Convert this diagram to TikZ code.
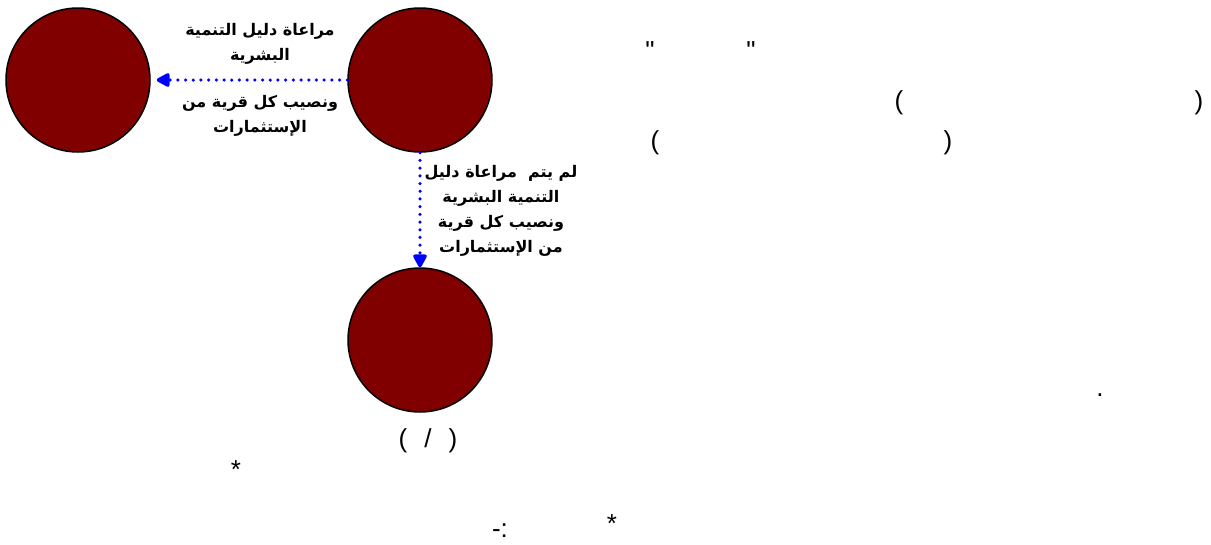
\documentclass[tikz,border=0pt]{standalone}
\usepackage{fontspec}
\setmainfont{Liberation Sans}[Ligatures=TeXOff]
\newfontfamily\arabicfont[Script=Arabic]{DejaVu Sans}
\usetikzlibrary{arrows.meta}
\definecolor{discred}{RGB}{128,0,0}
\newcommand{\rl}[1]{\beginR #1\endR}
\newcommand{\arsetup}{\TeXXeTstate=1\relax\arabicfont\bfseries\fontsize{16}{25}\selectfont}
\tikzset{
  disc/.style={circle, draw=black, line width=1.5pt, fill=discred, minimum size=144pt, inner sep=0pt},
  flow/.style={draw=blue, line width=3.5pt, dash pattern=on 0pt off 7.7pt, line cap=round,
    -{Triangle[length=15pt,width=15pt,round=false]}},
  lbl/.style={align=center, inner sep=0pt, font=\arsetup},
  glyph/.style={inner sep=0pt, font=\fontsize{26}{30}\selectfont}
}
\begin{document}
\begin{tikzpicture}[x=1pt,y=-1pt]
\useasboundingbox (0,0) rectangle (1211,544);
\node[disc] (c1) at (78,80) {};
\node[disc] (c2) at (420,80) {};
\node[disc] (c3) at (420,340) {};
\draw[flow, shorten >=6pt] (c2.west) -- (c1.east);
\draw[flow] (c2.south) -- (c3.north);
\node[lbl] (l1) at (260,44) {\rl{مراعاة دليل التنمية}\\\rl{البشرية}};
\node[lbl] (l2) at (260,116) {\rl{ونصيب كل قرية من}\\\rl{الإستثمارات}};
\node[lbl] (l3) at (501,211) {\rl{لم يتم\ \ مراعاة دليل}\\\rl{التنمية البشرية}\\\rl{ونصيب كل قرية}\\\rl{من الإستثمارات}};
\node[glyph] (q1) at (650,51) {\symbol{34}};
\node[glyph] (q2) at (751,51) {\symbol{34}};
\node[glyph] (p1) at (899,103) {(};
\node[glyph] (p2) at (1199,103) {)};
\node[glyph] (p3) at (655,143) {(};
\node[glyph] (p4) at (948,143) {)};
\node[glyph] (dot) at (1100,395) {.};
\node[glyph] (frac) at (428,441) {(\hspace{17pt}/\hspace{17pt})};
\node[glyph] (s1) at (236,470) {*};
\node[glyph] (s2) at (612,524) {*};
\node[glyph] (dc) at (500,531) {-:};
\end{tikzpicture}
\end{document}
